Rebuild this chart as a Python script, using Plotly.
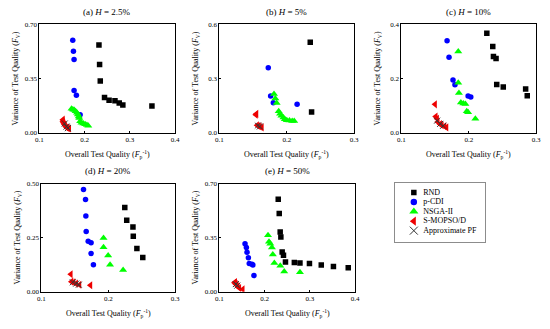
import plotly.graph_objects as go

# ---------------- data ----------------
# (a) H = 2.5%
A_RND_X = [0.2316, 0.233, 0.2345, 0.2439, 0.254, 0.267, 0.2764, 0.2844, 0.3487]
A_RND_Y = [0.568, 0.441, 0.334, 0.228, 0.211, 0.207, 0.192, 0.180, 0.173]
A_PCDI_X = [0.1737, 0.1752, 0.1766, 0.1766, 0.1817, 0.190]
A_PCDI_Y = [0.598, 0.527, 0.474, 0.274, 0.242, 0.117]
A_NSGA_X = [0.171, 0.174, 0.177, 0.180, 0.183, 0.185, 0.187, 0.188, 0.190, 0.193, 0.197, 0.201, 0.205, 0.208]
A_NSGA_Y = [0.155, 0.150, 0.148, 0.140, 0.130, 0.118, 0.105, 0.095, 0.075, 0.065, 0.060, 0.055, 0.050, 0.045]
A_SMO_X = [0.152, 0.152, 0.153, 0.155, 0.157, 0.160, 0.163, 0.166]
A_SMO_Y = [0.085, 0.075, 0.065, 0.055, 0.045, 0.035, 0.030, 0.028]
A_PF_X = [0.156, 0.160, 0.163]
A_PF_Y = [0.060, 0.040, 0.030]

# (b) H = 5%
B_RND_X = [0.2348, 0.2368]
B_RND_Y = [0.501, 0.115]
B_PCDI_X = [0.1725, 0.176, 0.180, 0.2153]
B_PCDI_Y = [0.360, 0.204, 0.166, 0.158]
B_NSGA_X = [0.181, 0.183, 0.185, 0.188, 0.190, 0.192, 0.195, 0.197, 0.200, 0.204, 0.208, 0.211]
B_NSGA_Y = [0.215, 0.190, 0.165, 0.120, 0.105, 0.095, 0.085, 0.075, 0.070, 0.068, 0.065, 0.065]
B_SMO_X = [0.155, 0.154, 0.156, 0.158, 0.160, 0.163]
B_SMO_Y = [0.105, 0.100, 0.042, 0.038, 0.035, 0.030]
B_PF_X = [0.157, 0.160]
B_PF_Y = [0.040, 0.035]

# (c) H = 10%
C_RND_X = [0.2268, 0.2356, 0.2366, 0.2405, 0.2415, 0.2512, 0.2844, 0.2868]
C_RND_Y = [0.368, 0.319, 0.282, 0.274, 0.178, 0.169, 0.162, 0.137]
C_PCDI_X = [0.1678, 0.1707, 0.1766, 0.1795, 0.199, 0.203]
C_PCDI_Y = [0.340, 0.279, 0.195, 0.177, 0.136, 0.132]
C_NSGA_X = [0.1844, 0.1844, 0.1854, 0.1883, 0.192, 0.195, 0.197, 0.199, 0.2098]
C_NSGA_Y = [0.300, 0.185, 0.147, 0.112, 0.108, 0.106, 0.080, 0.076, 0.052]
C_SMO_X = [0.150, 0.151, 0.153, 0.154, 0.1576, 0.160, 0.164, 0.167]
C_SMO_Y = [0.105, 0.060, 0.052, 0.040, 0.032, 0.028, 0.024, 0.020]
C_PF_X = [0.153, 0.1576, 0.162]
C_PF_Y = [0.045, 0.033, 0.026]

# (d) H = 20%
D_RND_X = [0.2247, 0.2276, 0.2369, 0.2374, 0.2428, 0.2516]
D_RND_Y = [0.389, 0.330, 0.299, 0.257, 0.200, 0.158]
D_PCDI_X = [0.163, 0.166, 0.1665, 0.167, 0.170, 0.1743, 0.1743, 0.1778]
D_PCDI_Y = [0.473, 0.426, 0.350, 0.279, 0.234, 0.227, 0.177, 0.125]
D_NSGA_X = [0.1929, 0.1929, 0.1998, 0.2027, 0.2222]
D_NSGA_Y = [0.248, 0.206, 0.168, 0.125, 0.101]
D_SMO_X = [0.144, 0.145, 0.148, 0.152, 0.157, 0.1733]
D_SMO_Y = [0.081, 0.047, 0.044, 0.038, 0.033, 0.030]
D_PF_X = [0.147, 0.152, 0.156]
D_PF_Y = [0.044, 0.038, 0.033]

# (e) H = 50%
E_RND_X = [0.230, 0.2322, 0.2343, 0.2358, 0.2387, 0.2416, 0.246, 0.2656, 0.278, 0.299, 0.3251, 0.352, 0.3847]
E_RND_Y = [0.599, 0.506, 0.387, 0.355, 0.258, 0.237, 0.193, 0.189, 0.187, 0.183, 0.174, 0.164, 0.155]
E_PCDI_X = [0.1566, 0.1596, 0.161, 0.164, 0.166, 0.172, 0.174, 0.1763]
E_PCDI_Y = [0.311, 0.286, 0.256, 0.221, 0.183, 0.179, 0.174, 0.105]
E_NSGA_X = [0.2074, 0.2096, 0.2125, 0.216, 0.218, 0.2214, 0.2345, 0.2432, 0.278]
E_NSGA_Y = [0.365, 0.324, 0.311, 0.286, 0.242, 0.187, 0.168, 0.132, 0.126]
E_SMO_X = [0.1335, 0.1349, 0.1363, 0.1385, 0.1407, 0.144, 0.1516]
E_SMO_Y = [0.058, 0.063, 0.050, 0.046, 0.034, 0.025, 0.017]
E_PF_X = [0.1363, 0.1395]
E_PF_Y = [0.050, 0.040]

PANEL_TITLES = ["(a) <i>H</i> = 2.5%", "(b) <i>H</i> = 5%", "(c) <i>H</i> = 10%",
                "(d) <i>H</i> = 20%", "(e) <i>H</i> = 50%"]
SERIES_NAMES = ["RND", "p-CDI", "NSGA-II", "S-MOPSO/D", "Approximate PF"]

X_RANGES = [[0.1, 0.4], [0.1, 0.3], [0.1, 0.3], [0.1, 0.3], [0.1, 0.4]]
Y_RANGES = [[0, 0.7], [0, 0.6], [0, 0.4], [0, 0.5], [0, 0.7]]
X_TICKS = [[0.1, 0.2, 0.3, 0.4], [0.1, 0.2, 0.3], [0.1, 0.2, 0.3], [0.1, 0.2, 0.3], [0.1, 0.2, 0.3, 0.4]]
Y_TICKS = [[0, 0.35, 0.7], [0, 0.3, 0.6], [0, 0.2, 0.4], [0, 0.25, 0.5], [0, 0.35, 0.7]]
Y_FMT = [".2f", ".1f", ".1f", ".2f", ".2f"]

panels = [
    (A_RND_X, A_RND_Y, A_PCDI_X, A_PCDI_Y, A_NSGA_X, A_NSGA_Y, A_SMO_X, A_SMO_Y, A_PF_X, A_PF_Y),
    (B_RND_X, B_RND_Y, B_PCDI_X, B_PCDI_Y, B_NSGA_X, B_NSGA_Y, B_SMO_X, B_SMO_Y, B_PF_X, B_PF_Y),
    (C_RND_X, C_RND_Y, C_PCDI_X, C_PCDI_Y, C_NSGA_X, C_NSGA_Y, C_SMO_X, C_SMO_Y, C_PF_X, C_PF_Y),
    (D_RND_X, D_RND_Y, D_PCDI_X, D_PCDI_Y, D_NSGA_X, D_NSGA_Y, D_SMO_X, D_SMO_Y, D_PF_X, D_PF_Y),
    (E_RND_X, E_RND_Y, E_PCDI_X, E_PCDI_Y, E_NSGA_X, E_NSGA_Y, E_SMO_X, E_SMO_Y, E_PF_X, E_PF_Y),
]

# ---------------- styling / layout ----------------
W, H = 550, 329
FONT = "Liberation Serif"
# plot areas in pixels: (left, right, top, bottom)
BOXES = [(36, 174, 21, 132), (219, 356, 21, 132), (404, 541, 21, 132),
         (38, 174, 184, 295), (219, 357, 184, 295)]
LEGEND_BOX = (398, 489, 183, 244)

STYLES = [
    dict(symbol="square", color="black", size=5.5),
    dict(symbol="circle", color="blue", size=5.5),
    dict(symbol="triangle-up", color="#00ff00", size=7),
    dict(symbol="triangle-left", color="#ee0000", size=7),
    dict(symbol="x-thin", color="#333333", size=6),
]
LEG_SIZES = [5.5, 6.5, 8, 8, 8]


def marker(st, size):
    mk = dict(symbol=st["symbol"], size=size, color=st["color"])
    if st["symbol"] == "x-thin":
        mk["line"] = dict(color=st["color"], width=1)
    return mk


fig = go.Figure()
layout = dict(width=W, height=H, margin=dict(l=0, r=0, t=0, b=0),
              paper_bgcolor="white", plot_bgcolor="white", showlegend=False,
              font=dict(family=FONT, color="black", size=7))
annotations = []

for i, (box, data) in enumerate(zip(BOXES, panels)):
    n = "" if i == 0 else str(i + 1)
    l, r, t, b = box
    xd = [l / W, r / W]
    yd = [1 - b / H, 1 - t / H]
    common = dict(showgrid=False, zeroline=False, showline=True, linecolor="black",
                  linewidth=1, mirror=True, ticks="inside", ticklen=2, tickcolor="black",
                  tickfont=dict(size=7, family=FONT))
    layout["xaxis" + n] = dict(domain=xd, range=X_RANGES[i], tickvals=X_TICKS[i],
                               tickformat=".1f", anchor="y" + n, **common)
    layout["yaxis" + n] = dict(domain=yd, range=Y_RANGES[i], tickvals=Y_TICKS[i],
                               tickformat=Y_FMT[i], anchor="x" + n, **common)
    for k in range(5):
        st = STYLES[k]
        fig.add_trace(go.Scatter(x=data[2 * k], y=data[2 * k + 1], mode="markers",
                                 name=SERIES_NAMES[k], marker=marker(st, st["size"]),
                                 xaxis="x" + n, yaxis="y" + n))
    cx = (l + r) / 2 / W
    annotations.append(dict(text=PANEL_TITLES[i], x=cx, y=1 - (t - 13) / H, xref="paper",
                            yref="paper", showarrow=False, font=dict(size=9, family=FONT),
                            xanchor="center", yanchor="middle"))
    annotations.append(dict(text="Overall Test Quality (<i>F</i><sub>p</sub><sup>-1</sup>)",
                            x=cx, y=1 - (b + 22) / H, xref="paper", yref="paper",
                            showarrow=False, font=dict(size=8, family=FONT),
                            xanchor="center", yanchor="middle"))
    annotations.append(dict(text="Variance of Test Quality (<i>F</i><sub>V</sub>)",
                            x=(l - 24) / W, y=(1 - b / H + 1 - t / H) / 2, xref="paper",
                            yref="paper", showarrow=False, textangle=-90,
                            font=dict(size=8, family=FONT),
                            xanchor="center", yanchor="middle"))

# ---- compact legend drawn in its own small axis (row index -> vertical position) ----
l, r, t, b = LEGEND_BOX
layout["xaxis6"] = dict(domain=[l / W, r / W], range=[0, 1], showgrid=False, zeroline=False,
                        showline=True, linecolor="#8c8c8c", linewidth=1, mirror=True,
                        showticklabels=False, ticks="", anchor="y6", fixedrange=True)
layout["yaxis6"] = dict(domain=[1 - b / H, 1 - t / H], range=[5.2, -1.056], showgrid=False,
                        zeroline=False, showline=True, linecolor="#8c8c8c", linewidth=1,
                        mirror=True, showticklabels=False, ticks="", anchor="x6",
                        fixedrange=True)
for k, name in enumerate(SERIES_NAMES):
    fig.add_trace(go.Scatter(x=[0.205], y=[k], mode="markers", name=name,
                             marker=marker(STYLES[k], LEG_SIZES[k]),
                             xaxis="x6", yaxis="y6", hoverinfo="skip"))
    fig.add_trace(go.Scatter(x=[0.31], y=[k], mode="text", text=[name],
                             textposition="middle right",
                             textfont=dict(size=8, family=FONT, color="black"),
                             xaxis="x6", yaxis="y6", hoverinfo="skip"))

layout["annotations"] = annotations
fig.update_layout(**layout)
fig.write_html("out.html")
